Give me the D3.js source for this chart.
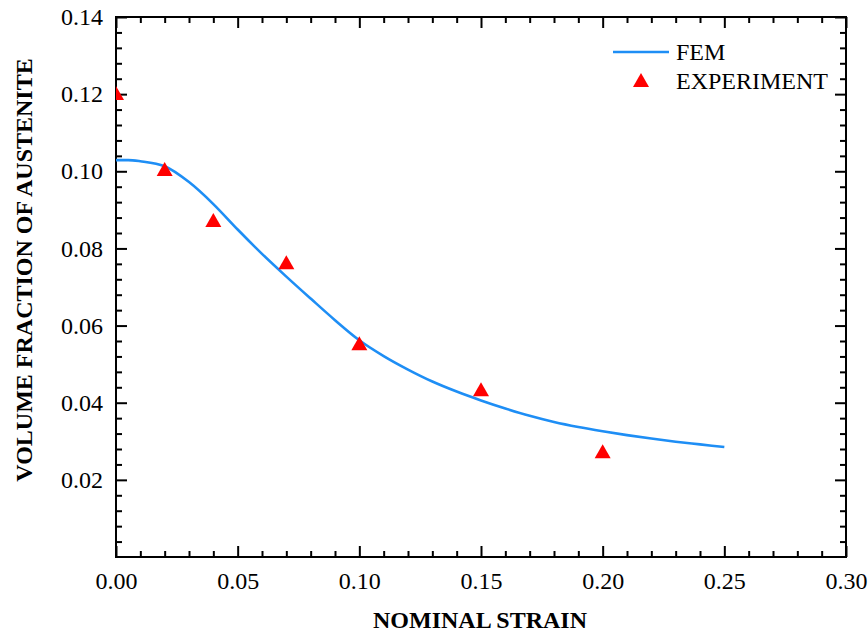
<!DOCTYPE html>
<html>
<head>
<meta charset="utf-8">
<script src="https://cdn.jsdelivr.net/npm/d3@7"></script>
<style>
  html, body { margin: 0; padding: 0; background: #fff; }
  svg { display: block; }
  text { font-family: "Liberation Serif", "Times New Roman", serif; fill: #000; }
</style>
</head>
<body>
<div id="chart"></div>
<script>
// FEM simulation: volume fraction of retained austenite vs nominal strain
const femStrain = [0, 0.005, 0.01, 0.02, 0.03, 0.04, 0.05, 0.06, 0.07, 0.08, 0.09, 0.10,
                   0.11, 0.12, 0.13, 0.14, 0.15, 0.16, 0.17, 0.18, 0.19, 0.20, 0.21,
                   0.22, 0.23, 0.24, 0.25];
const femFraction = [0.1029, 0.1029, 0.1026, 0.1013, 0.0972, 0.0915, 0.0849, 0.0786, 0.0727,
                     0.0670, 0.0614, 0.0562, 0.0521, 0.0486, 0.0455, 0.0429, 0.0406, 0.0385,
                     0.0366, 0.0350, 0.0337, 0.0326, 0.0316, 0.0307, 0.0299, 0.0292, 0.0285];

// Experimental measurements
const expStrain = [0, 0.02, 0.04, 0.07, 0.10, 0.15, 0.20];
const expFraction = [0.1203, 0.1006, 0.0874, 0.0764, 0.0554, 0.0435, 0.0274];

// Axis ticks
const xTicks = [0, 0.05, 0.10, 0.15, 0.20, 0.25, 0.30];
const yTicks = [0.02, 0.04, 0.06, 0.08, 0.10, 0.12, 0.14];

const seriesNames = ["FEM", "EXPERIMENT"];
const xTitle = "NOMINAL STRAIN";
const yTitle = "VOLUME FRACTION OF AUSTENITE";

const W = 868, H = 635;
const margin = { left: 116, right: 22, top: 17, bottom: 78 };
const pw = W - margin.left - margin.right;
const ph = H - margin.top - margin.bottom;

const svg = d3.select("#chart").append("svg").attr("width", W).attr("height", H);
const g = svg.append("g").attr("transform", `translate(${margin.left},${margin.top})`);

const x = d3.scaleLinear().domain([0, 0.30]).range([0, pw]);
const y = d3.scaleLinear().domain([0, 0.14]).range([ph, 0]);

svg.append("defs").append("clipPath").attr("id", "plot-clip")
  .append("rect").attr("width", pw).attr("height", ph);

const xMinor = d3.range(0, 0.3001, 0.01).filter(v => !xTicks.some(t => Math.abs(t - v) < 1e-9));
const yMinor = d3.range(0, 0.1401, 0.004).filter(v => !yTicks.some(t => Math.abs(t - v) < 1e-9) && v > 1e-9);

const majorLen = 11, minorLen = 6;
const fmt2 = d3.format(".2f");
const labelSize = 24;

function styleAxis(sel) {
  sel.select(".domain").remove();
  sel.selectAll(".tick line").attr("stroke", "#000").attr("stroke-width", 2);
}
function styleLabels(sel) {
  sel.attr("font-family", null).attr("font-size", null);
  sel.selectAll("text").attr("font-size", labelSize).attr("fill", "#000");
}

// Bottom axis with labels
g.append("g").attr("transform", `translate(0,${ph})`)
  .call(d3.axisBottom(x).tickValues(xTicks).tickSize(-majorLen).tickPadding(15).tickFormat(fmt2))
  .call(styleAxis).call(styleLabels);
g.append("g").attr("transform", `translate(0,${ph})`)
  .call(d3.axisBottom(x).tickValues(xMinor).tickSize(-minorLen).tickFormat(""))
  .call(styleAxis);

// Top axis (ticks only)
g.append("g").call(d3.axisTop(x).tickValues(xTicks).tickSize(-majorLen).tickFormat("")).call(styleAxis);
g.append("g").call(d3.axisTop(x).tickValues(xMinor).tickSize(-minorLen).tickFormat("")).call(styleAxis);

// Left axis with labels
g.append("g")
  .call(d3.axisLeft(y).tickValues(yTicks).tickSize(-majorLen).tickPadding(13).tickFormat(fmt2))
  .call(styleAxis).call(styleLabels);
g.append("g")
  .call(d3.axisLeft(y).tickValues(yMinor).tickSize(-minorLen).tickFormat(""))
  .call(styleAxis);

// Right axis (ticks only)
g.append("g").attr("transform", `translate(${pw},0)`)
  .call(d3.axisRight(y).tickValues(yTicks).tickSize(-majorLen).tickFormat("")).call(styleAxis);
g.append("g").attr("transform", `translate(${pw},0)`)
  .call(d3.axisRight(y).tickValues(yMinor).tickSize(-minorLen).tickFormat("")).call(styleAxis);

// Frame
g.append("rect").attr("width", pw).attr("height", ph)
  .attr("fill", "none").attr("stroke", "#000").attr("stroke-width", 2);

const plot = g.append("g").attr("clip-path", "url(#plot-clip)");

// FEM curve
const femData = femStrain.map((s, i) => [s, femFraction[i]]);
plot.append("path")
  .datum(femData)
  .attr("fill", "none")
  .attr("stroke", "#1E8EF5")
  .attr("stroke-width", 2.6)
  .attr("d", d3.line().x(d => x(d[0])).y(d => y(d[1])).curve(d3.curveMonotoneX));

// Triangle marker centred on its bounding box
const triW = 16, triH = 14;
const triPath = `M0,${-triH / 2}L${triW / 2},${triH / 2}L${-triW / 2},${triH / 2}Z`;

// Experimental points
plot.selectAll(".exp")
  .data(expStrain.map((s, i) => [s, expFraction[i]]))
  .join("path")
  .attr("class", "exp")
  .attr("transform", d => `translate(${x(d[0])},${y(d[1])})`)
  .attr("d", triPath)
  .attr("fill", "#FF0000");

// Legend
const leg = svg.append("g");
leg.append("line").attr("x1", 613).attr("x2", 669).attr("y1", 52).attr("y2", 52)
  .attr("stroke", "#1E8EF5").attr("stroke-width", 2.6);
leg.append("text").attr("x", 676).attr("y", 60).attr("font-size", 24).text(seriesNames[0]);
leg.append("path").attr("transform", "translate(641,80)").attr("d", triPath).attr("fill", "#FF0000");
leg.append("text").attr("x", 676).attr("y", 89).attr("font-size", 24).text(seriesNames[1]);

// Axis titles
svg.append("text")
  .attr("x", 480).attr("y", 628)
  .attr("text-anchor", "middle").attr("font-weight", "bold").attr("font-size", 24)
  .text(xTitle);
svg.append("text")
  .attr("transform", `translate(32,270) rotate(-90)`)
  .attr("text-anchor", "middle").attr("font-weight", "bold").attr("font-size", 24)
  .text(yTitle);
</script>
</body>
</html>
